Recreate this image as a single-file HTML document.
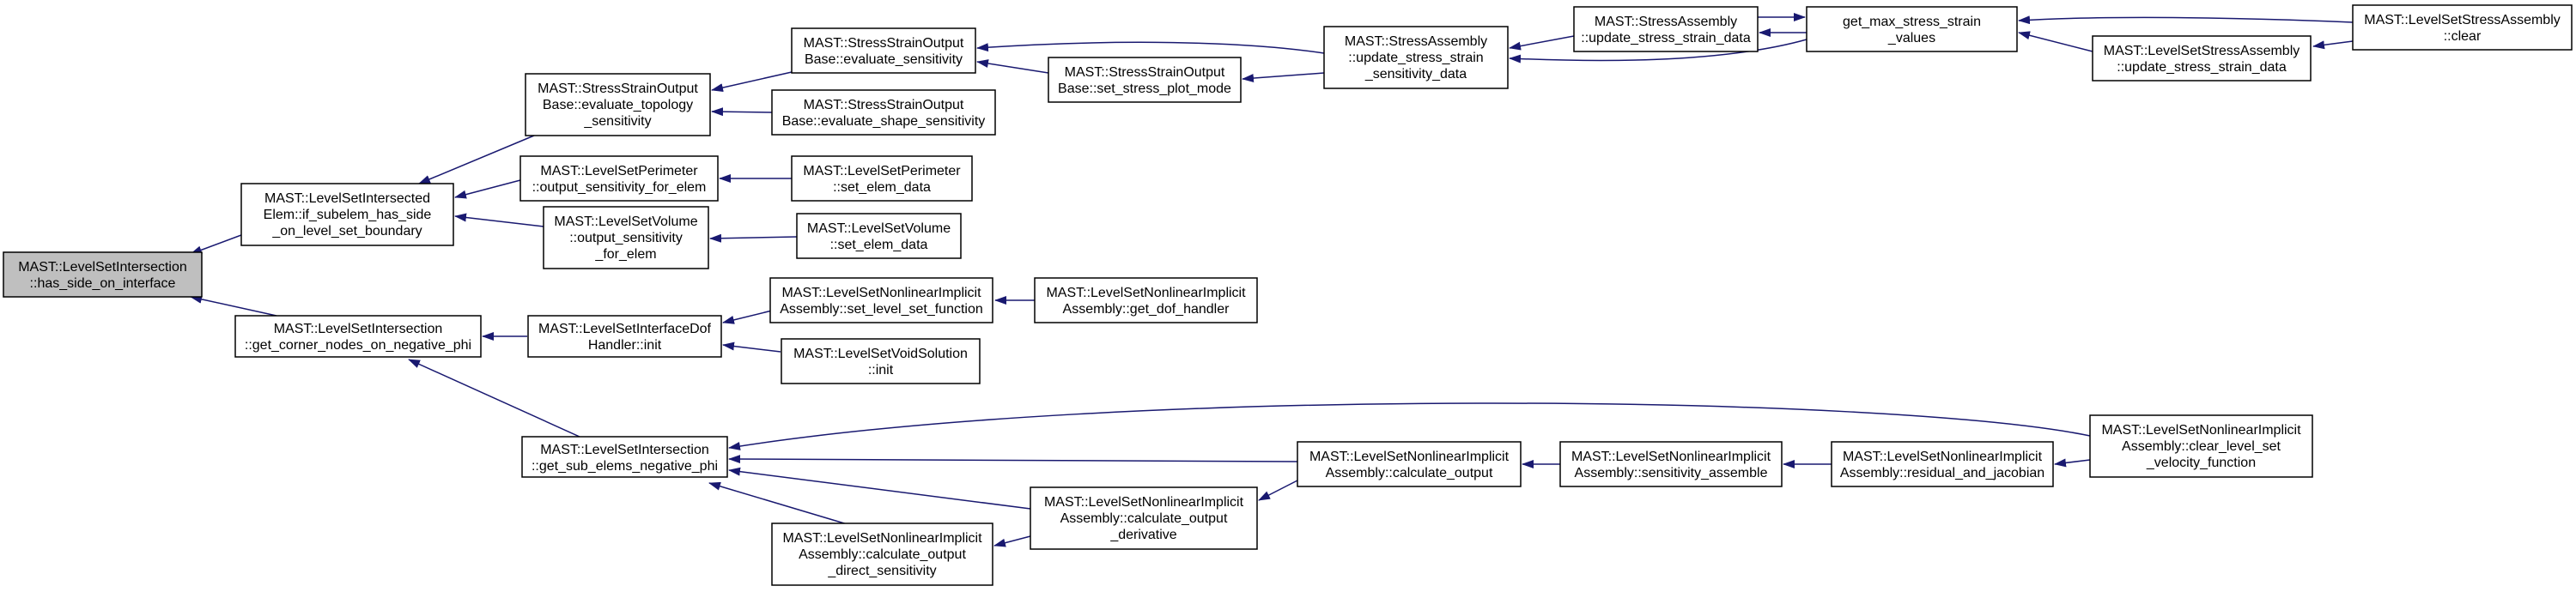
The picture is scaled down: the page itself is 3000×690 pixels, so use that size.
<!DOCTYPE html>
<html><head><meta charset="utf-8"><style>
html,body{margin:0;padding:0;background:#fff;}
svg{display:block;}
text{font-family:"Liberation Sans",sans-serif;font-size:16px;fill:#000;}
.n{fill:#fff;stroke:#000;stroke-width:1.5;}
.e{fill:none;stroke:#191970;stroke-width:1.5;}
</style></head><body>
<svg width="3000" height="690" viewBox="0 0 3000 690" xmlns="http://www.w3.org/2000/svg">
<defs><marker id="a" markerWidth="14" markerHeight="10" refX="13" refY="5" orient="auto" markerUnits="userSpaceOnUse"><path d="M0,0 L14,5 L0,10 Z" fill="#191970"/></marker></defs>
<g class="edges">
<path class="e" marker-end="url(#a)" d="M297,268 L222,296"/>
<path class="e" marker-end="url(#a)" d="M322,368 L222,346"/>
<path class="e" marker-end="url(#a)" d="M622,158 L488,214"/>
<path class="e" marker-end="url(#a)" d="M606,210 L530,230"/>
<path class="e" marker-end="url(#a)" d="M633,264 L530,252"/>
<path class="e" marker-end="url(#a)" d="M614,392 L562,392"/>
<path class="e" marker-end="url(#a)" d="M675,509 L476,419"/>
<path class="e" marker-end="url(#a)" d="M922,84 L829,105"/>
<path class="e" marker-end="url(#a)" d="M899,131 L829,130"/>
<path class="e" marker-end="url(#a)" d="M922,208 L838,208"/>
<path class="e" marker-end="url(#a)" d="M928,276 L827,278"/>
<path class="e" marker-end="url(#a)" d="M899,362 L842,376"/>
<path class="e" marker-end="url(#a)" d="M909,410 L842,402"/>
<path class="e" marker-end="url(#a)" d="M1205,350 L1159,350"/>
<path class="e" marker-end="url(#a)" d="M1221,85 L1138,72"/>
<path class="e" marker-end="url(#a)" d="M1542,62 C1450,48 1300,45 1138,56"/>
<path class="e" marker-end="url(#a)" d="M1542,85 L1447,92"/>
<path class="e" marker-end="url(#a)" d="M1833,42 L1758,56"/>
<path class="e" marker-end="url(#a)" d="M2047,20 L2102,20"/>
<path class="e" marker-end="url(#a)" d="M2104,38 L2049,38"/>
<path class="e" marker-end="url(#a)" d="M2104,46 C2000,75 1850,72 1758,68"/>
<path class="e" marker-end="url(#a)" d="M2437,60 L2351,38"/>
<path class="e" marker-end="url(#a)" d="M2740,26 C2600,20 2450,18 2351,24"/>
<path class="e" marker-end="url(#a)" d="M2740,48 L2694,54"/>
<path class="e" marker-end="url(#a)" d="M2434,508 C2200,460 1300,450 849,522"/>
<path class="e" marker-end="url(#a)" d="M1511,538 L849,535"/>
<path class="e" marker-end="url(#a)" d="M1200,593 L849,548"/>
<path class="e" marker-end="url(#a)" d="M990,612 L826,563"/>
<path class="e" marker-end="url(#a)" d="M1200,625 L1158,636"/>
<path class="e" marker-end="url(#a)" d="M1511,560 L1466,583"/>
<path class="e" marker-end="url(#a)" d="M1817,541 L1773,541"/>
<path class="e" marker-end="url(#a)" d="M2133,541 L2077,541"/>
<path class="e" marker-end="url(#a)" d="M2434,536 L2393,541"/>
</g>
<g text-anchor="middle">
<rect x="4" y="294" width="231" height="52" fill="#bfbfbf" stroke="#000" stroke-width="1.5"/>
<text x="119.5" y="316">MAST::LevelSetIntersection</text><text x="119.5" y="335">::has_side_on_interface</text>

<rect class="n" x="281" y="214" width="247" height="72"/>
<text x="404.5" y="236">MAST::LevelSetIntersected</text><text x="404.5" y="255">Elem::if_subelem_has_side</text><text x="404.5" y="274">_on_level_set_boundary</text>

<rect class="n" x="274" y="368" width="286" height="48"/>
<text x="417" y="388">MAST::LevelSetIntersection</text><text x="417" y="407">::get_corner_nodes_on_negative_phi</text>

<rect class="n" x="612" y="86" width="215" height="72"/>
<text x="719.5" y="108">MAST::StressStrainOutput</text><text x="719.5" y="127">Base::evaluate_topology</text><text x="719.5" y="146">_sensitivity</text>

<rect class="n" x="606" y="182" width="230" height="52"/>
<text x="721" y="204">MAST::LevelSetPerimeter</text><text x="721" y="223">::output_sensitivity_for_elem</text>

<rect class="n" x="633" y="241" width="192" height="72"/>
<text x="729" y="263">MAST::LevelSetVolume</text><text x="729" y="282">::output_sensitivity</text><text x="729" y="301">_for_elem</text>

<rect class="n" x="615" y="368" width="225" height="48"/>
<text x="727.5" y="388">MAST::LevelSetInterfaceDof</text><text x="727.5" y="407">Handler::init</text>

<rect class="n" x="608" y="509" width="239" height="47"/>
<text x="727.5" y="529">MAST::LevelSetIntersection</text><text x="727.5" y="548">::get_sub_elems_negative_phi</text>

<rect class="n" x="922" y="33" width="214" height="52"/>
<text x="1029" y="55">MAST::StressStrainOutput</text><text x="1029" y="74">Base::evaluate_sensitivity</text>

<rect class="n" x="899" y="105" width="260" height="52"/>
<text x="1029" y="127">MAST::StressStrainOutput</text><text x="1029" y="146">Base::evaluate_shape_sensitivity</text>

<rect class="n" x="922" y="182" width="210" height="52"/>
<text x="1027" y="204">MAST::LevelSetPerimeter</text><text x="1027" y="223">::set_elem_data</text>

<rect class="n" x="928" y="249" width="191" height="52"/>
<text x="1023.5" y="271">MAST::LevelSetVolume</text><text x="1023.5" y="290">::set_elem_data</text>

<rect class="n" x="897" y="324" width="259" height="52"/>
<text x="1026.5" y="346">MAST::LevelSetNonlinearImplicit</text><text x="1026.5" y="365">Assembly::set_level_set_function</text>

<rect class="n" x="910" y="395" width="231" height="52"/>
<text x="1025.5" y="417">MAST::LevelSetVoidSolution</text><text x="1025.5" y="436">::init</text>

<rect class="n" x="899" y="610" width="257" height="72"/>
<text x="1027.5" y="632">MAST::LevelSetNonlinearImplicit</text><text x="1027.5" y="651">Assembly::calculate_output</text><text x="1027.5" y="670">_direct_sensitivity</text>

<rect class="n" x="1221" y="67" width="224" height="52"/>
<text x="1333" y="89">MAST::StressStrainOutput</text><text x="1333" y="108">Base::set_stress_plot_mode</text>

<rect class="n" x="1205" y="324" width="259" height="52"/>
<text x="1334.5" y="346">MAST::LevelSetNonlinearImplicit</text><text x="1334.5" y="365">Assembly::get_dof_handler</text>

<rect class="n" x="1200" y="568" width="264" height="72"/>
<text x="1332" y="590">MAST::LevelSetNonlinearImplicit</text><text x="1332" y="609">Assembly::calculate_output</text><text x="1332" y="628">_derivative</text>

<rect class="n" x="1511" y="515" width="260" height="52"/>
<text x="1641" y="537">MAST::LevelSetNonlinearImplicit</text><text x="1641" y="556">Assembly::calculate_output</text>

<rect class="n" x="1542" y="31" width="214" height="72"/>
<text x="1649" y="53">MAST::StressAssembly</text><text x="1649" y="72">::update_stress_strain</text><text x="1649" y="91">_sensitivity_data</text>

<rect class="n" x="1817" y="515" width="258" height="52"/>
<text x="1946" y="537">MAST::LevelSetNonlinearImplicit</text><text x="1946" y="556">Assembly::sensitivity_assemble</text>

<rect class="n" x="1833" y="8" width="214" height="52"/>
<text x="1940" y="30">MAST::StressAssembly</text><text x="1940" y="49">::update_stress_strain_data</text>

<rect class="n" x="2104" y="8" width="245" height="52"/>
<text x="2226.5" y="30">get_max_stress_strain</text><text x="2226.5" y="49">_values</text>

<rect class="n" x="2437" y="42" width="254" height="52"/>
<text x="2564" y="64">MAST::LevelSetStressAssembly</text><text x="2564" y="83">::update_stress_strain_data</text>

<rect class="n" x="2740" y="6" width="255" height="52"/>
<text x="2867.5" y="28">MAST::LevelSetStressAssembly</text><text x="2867.5" y="47">::clear</text>

<rect class="n" x="2133" y="515" width="258" height="52"/>
<text x="2262" y="537">MAST::LevelSetNonlinearImplicit</text><text x="2262" y="556">Assembly::residual_and_jacobian</text>

<rect class="n" x="2434" y="484" width="259" height="72"/>
<text x="2563.5" y="506">MAST::LevelSetNonlinearImplicit</text><text x="2563.5" y="525">Assembly::clear_level_set</text><text x="2563.5" y="544">_velocity_function</text>
</g>
</svg>
</body></html>
